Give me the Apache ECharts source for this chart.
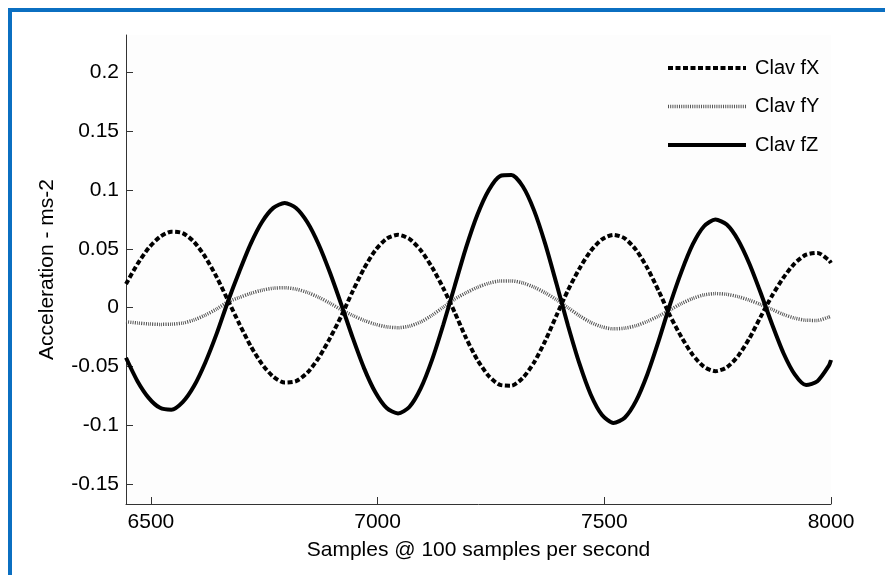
<!DOCTYPE html>
<html>
<head>
<meta charset="utf-8">
<script src="https://cdn.jsdelivr.net/npm/echarts@6/dist/echarts.min.js"></script>
<style>
html,body{margin:0;padding:0;background:#fff;}
#chart{width:885px;height:575px;}
</style>
</head>
<body>
<div id="chart"></div>
<script>
// Sample positions (samples @ 100 Hz)
var samples = [6445,6470,6495,6520,6545,6570,6595,6620,6645,6670,6695,6720,6745,6770,6795,6820,6845,6870,6895,6920,
  6945,6970,6995,7020,7045,7070,7095,7120,7145,7170,7195,7220,7245,7270,7295,7320,7345,7370,7395,7420,
  7445,7470,7495,7520,7545,7570,7595,7620,7645,7670,7695,7720,7745,7770,7795,7820,7845,7870,7895,7920,
  7945,7970,7995,8000];

var clavFX = [0.0201,0.0370,0.0508,0.0603,0.0647,0.0635,0.0560,0.0430,0.0260,0.0062,
  -0.0137,-0.0326,-0.0480,-0.0587,-0.0637,-0.0625,-0.0553,-0.0427,-0.0259,-0.0070,
  0.0140,0.0333,0.0489,0.0588,0.0620,0.0585,0.0489,0.0344,0.0165,-0.0040,
  -0.0257,-0.0443,-0.0581,-0.0657,-0.0664,-0.0598,-0.0466,-0.0280,-0.0062,0.0150,
  0.0332,0.0483,0.0582,0.0620,0.0590,0.0492,0.0337,0.0142,-0.0068,-0.0249,
  -0.0401,-0.0503,-0.0540,-0.0508,-0.0411,-0.0261,-0.0076,0.0102,0.0255,0.0377,
  0.0451,0.0466,0.0405,0.0380];

var clavFY = [-0.0120,-0.0130,-0.0138,-0.0142,-0.0140,-0.0131,-0.0104,-0.0063,-0.0011,0.0050,
  0.0087,0.0122,0.0149,0.0166,0.0170,0.0158,0.0130,0.0089,0.0038,-0.0018,
  -0.0066,-0.0108,-0.0141,-0.0163,-0.0170,-0.0157,-0.0121,-0.0064,0.0005,0.0073,
  0.0127,0.0173,0.0208,0.0227,0.0228,0.0211,0.0175,0.0126,0.0067,0.0000,
  -0.0068,-0.0125,-0.0163,-0.0180,-0.0174,-0.0153,-0.0116,-0.0071,-0.0019,0.0035,
  0.0079,0.0109,0.0120,0.0114,0.0094,0.0064,0.0027,-0.0015,-0.0057,-0.0089,
  -0.0107,-0.0108,-0.0080,-0.0072];

var clavFZ = [-0.0426,-0.0623,-0.0767,-0.0852,-0.0868,-0.0804,-0.0667,-0.0466,-0.0221,0.0055,
  0.0308,0.0543,0.0729,0.0849,0.0890,0.0849,0.0727,0.0538,0.0297,0.0026,
  -0.0255,-0.0514,-0.0720,-0.0854,-0.0900,-0.0845,-0.0687,-0.0444,-0.0143,0.0185,
  0.0511,0.0791,0.1000,0.1120,0.1128,0.1033,0.0828,0.0539,0.0197,-0.0153,
  -0.0474,-0.0738,-0.0913,-0.0980,-0.0936,-0.0793,-0.0566,-0.0281,0.0028,0.0305,
  0.0538,0.0693,0.0750,0.0707,0.0576,0.0374,0.0125,-0.0141,-0.0385,-0.0567,
  -0.0658,-0.0625,-0.0495,-0.0445];

var seriesNames = ['Clav fX', 'Clav fY', 'Clav fZ'];
var xTicks = [6500, 7000, 7500, 8000];
var yTicks = [-0.15, -0.1, -0.05, 0, 0.05, 0.1, 0.15, 0.2];

function pairs(xs, ys) {
  var out = [];
  for (var i = 0; i < xs.length; i++) out.push([xs[i], ys[i]]);
  return out;
}

var FONT = "'Liberation Sans', Arial, sans-serif";
var chart = echarts.init(document.getElementById('chart'), null, {renderer: 'canvas'});

chart.setOption({
  backgroundColor: '#ffffff',
  animation: false,
  textStyle: {fontFamily: FONT},
  graphic: [{
    type: 'rect',
    z: 100,
    shape: {x: 10, y: 10, width: 1200, height: 1200},
    style: {fill: 'none', stroke: '#0b6fc1', lineWidth: 4}
  }],
  grid: {
    left: 126, right: 54, top: 35, bottom: 71,
    show: true, backgroundColor: '#fdfdfd', borderWidth: 0
  },
  legend: {
    orient: 'vertical',
    left: 666, top: 58,
    padding: 0,
    itemWidth: 78, itemHeight: 20, itemGap: 18.5,
    data: seriesNames,
    itemStyle: {color: 'transparent', borderWidth: 0, opacity: 0},
    lineStyle: {width: 'inherit'},
    textStyle: {fontSize: 20, color: '#000', fontFamily: FONT, padding: [0, 0, 0, 4]}
  },
  xAxis: {
    type: 'value',
    min: 6445, max: 8000,
    name: 'Samples @ 100 samples per second',
    nameLocation: 'middle',
    nameGap: 36,
    nameTextStyle: {fontSize: 21, color: '#000', fontFamily: FONT},
    axisLine: {show: true, onZero: false, lineStyle: {color: '#333', width: 1}},
    axisTick: {show: true, inside: true, length: 7, lineStyle: {color: '#333'}, customValues: xTicks},
    axisLabel: {fontSize: 21, color: '#000', margin: 8, fontFamily: FONT, customValues: xTicks,
      formatter: function (v) { return String(v); }},
    splitLine: {show: false}
  },
  yAxis: {
    type: 'value',
    min: -0.167, max: 0.232,
    name: 'Acceleration - ms-2',
    nameLocation: 'middle',
    nameGap: 68,
    nameTextStyle: {fontSize: 21, color: '#000', fontFamily: FONT},
    axisLine: {show: true, onZero: false, lineStyle: {color: '#333', width: 1}},
    axisTick: {show: true, inside: true, length: 7, lineStyle: {color: '#333'}, customValues: yTicks},
    axisLabel: {fontSize: 21, color: '#000', margin: 7, fontFamily: FONT, customValues: yTicks},
    splitLine: {show: false}
  },
  series: [
    {
      name: seriesNames[0], type: 'line', symbol: 'none', smooth: 0.25,
      data: pairs(samples, clavFX),
      lineStyle: {color: '#000', width: 4, type: [5, 2.5]},
      itemStyle: {color: '#000'}
    },
    {
      name: seriesNames[1], type: 'line', symbol: 'none', smooth: 0.25,
      data: pairs(samples, clavFY),
      lineStyle: {color: '#555', width: 3.5, type: [1, 1.2]},
      itemStyle: {color: '#555'}
    },
    {
      name: seriesNames[2], type: 'line', symbol: 'none', smooth: 0.25,
      data: pairs(samples, clavFZ),
      lineStyle: {color: '#000', width: 4},
      itemStyle: {color: '#000'}
    }
  ]
});
</script>
</body>
</html>
